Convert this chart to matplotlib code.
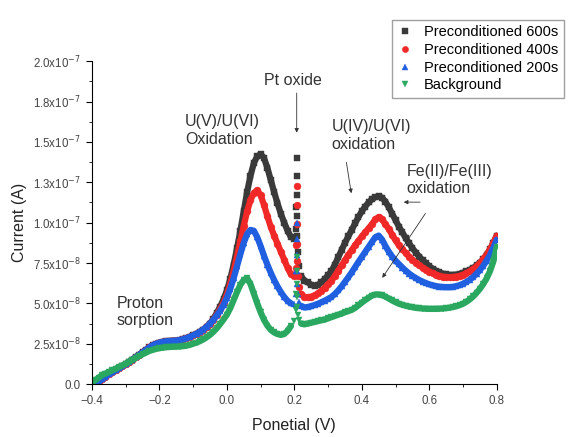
import numpy as np
import matplotlib
matplotlib.use("Agg")
import matplotlib.pyplot as plt
from matplotlib.ticker import FixedLocator, MultipleLocator

plt.rcParams['font.family'] = ['Liberation Sans', 'DejaVu Sans']

# potential (V): 0.01 V steps, finer around the Pt oxide spike
potential = [
    -0.40, -0.39, -0.38, -0.37, -0.36, -0.35, -0.34, -0.33, -0.32, -0.31,
    -0.30, -0.29, -0.28, -0.27, -0.26, -0.25, -0.24, -0.23, -0.22, -0.21,
    -0.20, -0.19, -0.18, -0.17, -0.16, -0.15, -0.14, -0.13, -0.12, -0.11,
    -0.10, -0.09, -0.08, -0.07, -0.06, -0.05, -0.04, -0.03, -0.02, -0.01,
    0.00, 0.01, 0.02, 0.03, 0.04, 0.05, 0.06, 0.07, 0.08, 0.09,
    0.10, 0.11, 0.12, 0.13, 0.14, 0.15, 0.16, 0.17, 0.18, 0.19,
    0.200, 0.204, 0.206, 0.207, 0.207, 0.207, 0.207, 0.208, 0.210, 0.214, 0.22, 0.23,
    0.24, 0.25, 0.26, 0.27, 0.28, 0.29, 0.30, 0.31, 0.32, 0.33,
    0.34, 0.35, 0.36, 0.37, 0.38, 0.39, 0.40, 0.41, 0.42, 0.43,
    0.44, 0.45, 0.46, 0.47, 0.48, 0.49, 0.50, 0.51, 0.52, 0.53,
    0.54, 0.55, 0.56, 0.57, 0.58, 0.59, 0.60, 0.61, 0.62, 0.63,
    0.64, 0.65, 0.66, 0.67, 0.68, 0.69, 0.70, 0.71, 0.72, 0.73,
    0.74, 0.75, 0.76, 0.77, 0.78, 0.79, 0.80,
]

# currents in units of 1e-8 A
low_common = [
    -0.2, 0.0, 0.15, 0.3, 0.45, 0.6, 0.72, 0.85, 0.98, 1.1,
    1.23, 1.37, 1.52, 1.67, 1.82, 1.97, 2.12, 2.27, 2.4, 2.5,
    2.57, 2.62, 2.65, 2.67, 2.68, 2.7, 2.73, 2.78, 2.85, 2.93,
    3.02, 3.12, 3.24, 3.38, 3.55, 3.75,
]

pre600 = low_common + [
    4.05, 4.4, 4.8, 5.25,
    5.8, 6.5, 7.4, 8.4, 9.5, 10.7, 11.9, 12.9, 13.7, 14.1,
    14.25, 14.0, 13.4, 12.65, 11.9, 11.2, 10.55, 10.0, 9.5, 9.1,
    9.0, 9.6, 11.0, 14.0, 12.9, 11.7, 10.4, 9.2, 8.2, 7.3, 6.7, 6.4,
    6.3, 6.15, 6.1, 6.15, 6.3, 6.5, 6.75, 7.0, 7.4, 7.85,
    8.3, 8.75, 9.15, 9.55, 9.95, 10.35, 10.7, 11.0, 11.25, 11.45,
    11.58, 11.62, 11.55, 11.3, 10.95, 10.55, 10.15, 9.75, 9.4, 9.05,
    8.72, 8.42, 8.15, 7.9, 7.68, 7.48, 7.3, 7.15, 7.02, 6.92,
    6.84, 6.79, 6.76, 6.76, 6.78, 6.83, 6.9, 6.98, 7.08, 7.2,
    7.35, 7.52, 7.74, 8.02, 8.35, 8.75, 9.2,
]

pre400 = low_common + [
    4.0, 4.3, 4.65, 5.05,
    5.55, 6.2, 7.0, 7.9, 8.85, 9.8, 10.7, 11.4, 11.85, 12.0,
    11.7, 11.1, 10.4, 9.75, 9.2, 8.7, 8.2, 7.7, 7.2, 6.8,
    6.7, 7.2, 8.6, 12.3, 11.1, 9.9, 8.7, 7.6, 6.7, 6.0, 5.6, 5.4,
    5.38, 5.42, 5.5, 5.62, 5.78, 5.97, 6.18, 6.4, 6.7, 7.02,
    7.35, 7.68, 8.0, 8.3, 8.6, 8.88, 9.15, 9.4, 9.65, 9.9,
    10.2, 10.35, 10.2, 9.9, 9.6, 9.25, 8.9, 8.6, 8.35, 8.12,
    7.9, 7.7, 7.52, 7.36, 7.22, 7.09, 6.97, 6.87, 6.78, 6.71,
    6.66, 6.63, 6.62, 6.63, 6.66, 6.71, 6.78, 6.87, 6.99, 7.13,
    7.3, 7.5, 7.74, 8.02, 8.35, 8.75, 9.2,
]

pre200 = low_common + [
    3.98, 4.25, 4.55, 4.9,
    5.35, 5.9, 6.55, 7.3, 8.05, 8.75, 9.3, 9.55, 9.5, 9.1,
    8.55, 7.95, 7.4, 6.9, 6.45, 6.05, 5.7, 5.4, 5.15, 5.0,
    4.95, 5.6, 7.0, 10.0, 9.0, 8.0, 7.0, 6.2, 5.6, 5.1, 4.85, 4.75,
    4.78, 4.83, 4.9, 4.98, 5.07, 5.17, 5.28, 5.4, 5.58, 5.8,
    6.05, 6.33, 6.62, 6.92, 7.25, 7.57, 7.88, 8.2, 8.5, 8.8,
    9.1, 9.2, 8.95, 8.55, 8.2, 7.9, 7.65, 7.43, 7.22, 7.03,
    6.85, 6.7, 6.57, 6.45, 6.35, 6.26, 6.18, 6.12, 6.07, 6.04,
    6.02, 6.01, 6.01, 6.03, 6.07, 6.13, 6.22, 6.33, 6.47, 6.63,
    6.83, 7.06, 7.33, 7.65, 8.0, 8.45, 8.95,
]

background = [
    0.1, 0.25, 0.4, 0.55, 0.65, 0.75, 0.85, 0.95, 1.05, 1.15,
    1.25, 1.37, 1.5, 1.62, 1.74, 1.85, 1.95, 2.05, 2.12, 2.18,
    2.22, 2.26, 2.28, 2.3, 2.31, 2.32, 2.33, 2.35, 2.38, 2.43,
    2.5, 2.57, 2.66, 2.77, 2.9, 3.05, 3.24, 3.46, 3.72, 4.0,
    4.3, 4.7, 5.2, 5.7, 6.15, 6.45, 6.55, 6.2, 5.6, 5.0,
    4.45, 3.98, 3.62, 3.36, 3.2, 3.1, 3.05, 3.1, 3.3, 3.6,
    3.9, 4.6, 5.6, 7.9, 7.0, 6.2, 5.4, 4.8, 4.3, 3.95, 3.75, 3.7,
    3.75, 3.8, 3.85, 3.9, 3.95, 4.0, 4.07, 4.15, 4.22, 4.3,
    4.37, 4.45, 4.52, 4.6, 4.72, 4.88, 5.05, 5.2, 5.35, 5.48,
    5.55, 5.55, 5.5, 5.42, 5.3, 5.18, 5.07, 4.98, 4.91, 4.85,
    4.8, 4.76, 4.72, 4.7, 4.68, 4.67, 4.66, 4.66, 4.66, 4.67,
    4.68, 4.7, 4.73, 4.77, 4.82, 4.89, 4.98, 5.1, 5.25, 5.43,
    5.65, 5.9, 6.2, 6.55, 7.0, 7.6, 8.5,
]

labels = ["Preconditioned 600s", "Preconditioned 400s",
          "Preconditioned 200s", "Background"]
series = [pre600, pre400, pre200, background]
markers = ["s", "o", "^", "v"]
colors = ["#3a3a3a", "#f02828", "#1f5fe0", "#2aa860"]

yticks = [0, 2.5e-8, 5e-8, 7.5e-8, 1e-7, 1.25e-7, 1.5e-7, 1.75e-7, 2e-7]
yticklabels = ["0.0", r"2.5x10$^{-8}$", r"5.0x10$^{-8}$", r"7.5x10$^{-8}$",
               r"1.0x10$^{-7}$", r"1.3x10$^{-7}$", r"1.5x10$^{-7}$",
               r"1.8x10$^{-7}$", r"2.0x10$^{-7}$"]

fig = plt.figure(figsize=(5.71, 4.37), dpi=100)
ax = fig.add_axes([0.161, 0.121, 0.709, 0.739])

x = np.array(potential)
spike = (x > 0.195) & (x < 0.215)
for vals, lab, m, c in zip(series, labels, markers, colors):
    y = np.array(vals) * 1e-8
    y_band = np.where(spike, np.nan, y)
    ax.plot(x, y_band, color=c, lw=4.5, solid_capstyle="round")
    ax.plot(x, y, linestyle="none", marker=m, ms=5,
            mec=c, mfc=c, mew=0.3, color=c, label=lab)

ax.set_xlim(-0.4, 0.8)
ax.set_ylim(0, 2e-7)
ax.set_xticks([-0.4, -0.2, 0.0, 0.2, 0.4, 0.6, 0.8])
ax.xaxis.set_minor_locator(MultipleLocator(0.1))
ax.yaxis.set_major_locator(FixedLocator(yticks))
ax.set_yticklabels(yticklabels)
ax.yaxis.set_minor_locator(MultipleLocator(1.25e-8))
ax.tick_params(which="major", direction="out", length=4, labelsize=8.3,
               labelcolor="#444444", pad=4)
ax.tick_params(which="minor", direction="out", length=2)
for s in ["top", "right"]:
    ax.spines[s].set_visible(False)

ax.set_xlabel("Ponetial (V)", fontsize=11.5, color="#222222", labelpad=8)
ax.set_ylabel("Current (A)", fontsize=11.5, color="#222222")

tcol = "#333333"
fs = 11.5
ax.text(0.196, 1.88e-7, "Pt oxide", ha="center", va="center", fontsize=fs, color=tcol)
ax.annotate("", xy=(0.207, 1.54e-7), xytext=(0.207, 1.82e-7),
            arrowprops=dict(arrowstyle="-|>", color="#333333", lw=0.6,
                            mutation_scale=6))
ax.text(-0.124, 1.57e-7, "U(V)/U(VI)\nOxidation", ha="left", va="center",
        fontsize=fs, color=tcol, linespacing=1.2)
ax.text(0.311, 1.54e-7, "U(IV)/U(VI)\noxidation", ha="left", va="center",
        fontsize=fs, color=tcol, linespacing=1.2)
ax.annotate("", xy=(0.370, 1.165e-7), xytext=(0.353, 1.39e-7),
            arrowprops=dict(arrowstyle="-|>", color="#333333", lw=0.6,
                            mutation_scale=6))
ax.text(0.533, 1.263e-7, "Fe(II)/Fe(III)\noxidation", ha="left", va="center",
        fontsize=fs, color=tcol, linespacing=1.2)
ax.annotate("", xy=(0.516, 1.127e-7), xytext=(0.581, 1.127e-7),
            arrowprops=dict(arrowstyle="-|>", color="#333333", lw=0.6,
                            mutation_scale=6))
ax.annotate("", xy=(0.456, 0.644e-7), xytext=(0.593, 1.071e-7),
            arrowprops=dict(arrowstyle="-|>", color="#333333", lw=0.6,
                            mutation_scale=6))
ax.text(-0.326, 0.446e-7, "Proton\nsorption", ha="left", va="center",
        fontsize=fs, color=tcol, linespacing=1.2)

fig.legend(loc="upper left", bbox_to_anchor=(0.674, 0.972), fontsize=10.5,
           frameon=True, fancybox=False, edgecolor="#888888",
           handlelength=1.0, handletextpad=0.8, borderpad=0.4,
           labelspacing=0.25, markerscale=0.9)

fig.savefig("out.png", dpi=100)
